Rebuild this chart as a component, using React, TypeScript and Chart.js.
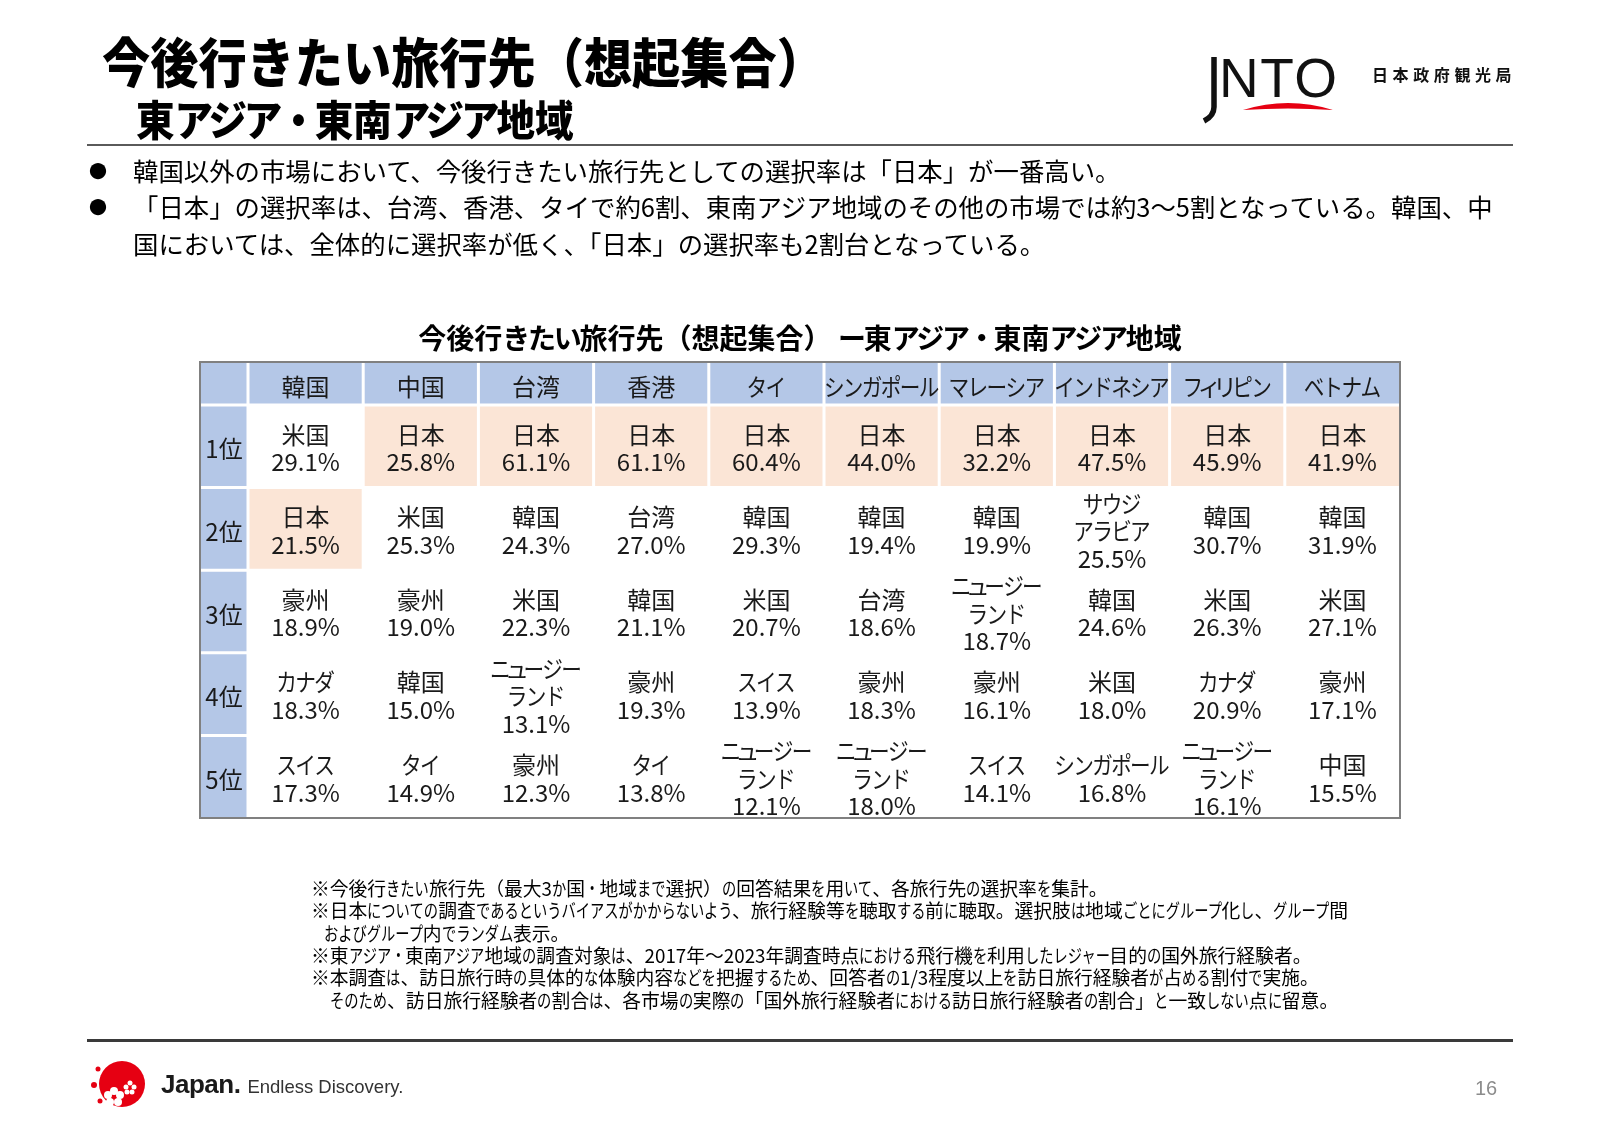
import React, { useEffect, useRef } from "react";
import { Chart, registerables } from "chart.js";

Chart.register(...registerables);

// ---------------- data ----------------
const markets = ["韓国", "中国", "台湾", "香港", "タイ", "シンガポール", "マレーシア", "インドネシア", "フィリピン", "ベトナム"];
const rankLabels = ["1位", "2位", "3位", "4位", "5位"];

const rank1Places = ["米国", "日本", "日本", "日本", "日本", "日本", "日本", "日本", "日本", "日本"];
const rank1Rates = [29.1, 25.8, 61.1, 61.1, 60.4, 44.0, 32.2, 47.5, 45.9, 41.9];

const rank2Places = ["日本", "米国", "韓国", "台湾", "韓国", "韓国", "韓国", "サウジ\nアラビア", "韓国", "韓国"];
const rank2Rates = [21.5, 25.3, 24.3, 27.0, 29.3, 19.4, 19.9, 25.5, 30.7, 31.9];

const rank3Places = ["豪州", "豪州", "米国", "韓国", "米国", "台湾", "ニュージー\nランド", "韓国", "米国", "米国"];
const rank3Rates = [18.9, 19.0, 22.3, 21.1, 20.7, 18.6, 18.7, 24.6, 26.3, 27.1];

const rank4Places = ["カナダ", "韓国", "ニュージー\nランド", "豪州", "スイス", "豪州", "豪州", "米国", "カナダ", "豪州"];
const rank4Rates = [18.3, 15.0, 13.1, 19.3, 13.9, 18.3, 16.1, 18.0, 20.9, 17.1];

const rank5Places = ["スイス", "タイ", "豪州", "タイ", "ニュージー\nランド", "ニュージー\nランド", "スイス", "シンガポール", "ニュージー\nランド", "中国"];
const rank5Rates = [17.3, 14.9, 12.3, 13.8, 12.1, 18.0, 14.1, 16.8, 16.1, 15.5];

const highlightPlace = "日本";

const pageTitle = "今後行きたい旅行先（想起集合）";
const pageSubtitle = "東アジア・東南アジア地域";
const bulletLines = [
  ["韓国以外の市場において、今後行きたい旅行先としての選択率は「日本」が一番高い。"],
  [
    "「日本」の選択率は、台湾、香港、タイで約6割、東南アジア地域のその他の市場では約3～5割となっている。韓国、中",
    "国においては、全体的に選択率が低く、「日本」の選択率も2割台となっている。",
  ],
];
const tableTitle = "今後行きたい旅行先（想起集合） ー東アジア・東南アジア地域";
const footnotes = [
  "※今後行きたい旅行先（最大3か国・地域まで選択）の回答結果を用いて、各旅行先の選択率を集計。",
  "※日本についての調査であるというバイアスがかからないよう、旅行経験等を聴取する前に聴取。選択肢は地域ごとにグループ化し、グループ間",
  "およびグループ内でランダム表示。",
  "※東アジア・東南アジア地域の調査対象は、2017年～2023年調査時点における飛行機を利用したレジャー目的の国外旅行経験者。",
  "※本調査は、訪日旅行時の具体的な体験内容などを把握するため、回答者の1/3程度以上を訪日旅行経験者が占める割付で実施。",
  "そのため、訪日旅行経験者の割合は、各市場の実際の「国外旅行経験者における訪日旅行経験者の割合」と一致しない点に留意。",
];
const footnoteIndents = [0, 0, 13, 0, 0, 19];
const pageNumber = "16";

// ---------------- table model built from the arrays ----------------
const rankRows = [
  { places: rank1Places, rates: rank1Rates },
  { places: rank2Places, rates: rank2Rates },
  { places: rank3Places, rates: rank3Rates },
  { places: rank4Places, rates: rank4Rates },
  { places: rank5Places, rates: rank5Rates },
];

const cellPoints = rankRows.flatMap((_, r) => markets.map((__, c) => ({ x: c + 0.5, y: r + 0.5 })));

// ---------------- styling ----------------
const HEADER_BLUE = "#b4c7e7";
const PEACH = "#fbe5d6";
const BORDER = "#808080";
const TEXT = "#1a1a1a";
const CELL_EM = 24;
const CELL_FONT = `${CELL_EM}px "Noto Sans CJK JP", sans-serif`;
const LINE_H = 27.5;
const JP = '"Noto Sans CJK JP", "Noto Sans CJK SC", sans-serif';

const KATAKANA = /[\u30a0-\u30ff]/;
const SMALL_KANA = /[ァィゥェォッャュョヮ]/;

// proportional-width approximation for katakana (like a UI font with narrow kana)
function glyphMetrics(ctx: CanvasRenderingContext2D, ch: string) {
  if (SMALL_KANA.test(ch)) return { adv: 0.6 * CELL_EM, sx: 1 };
  if (ch === "リ") return { adv: 0.68 * CELL_EM, sx: 1 };
  if (KATAKANA.test(ch)) return { adv: 0.79 * CELL_EM, sx: 0.86 };
  return { adv: ctx.measureText(ch).width, sx: 1 };
}

function drawLabel(ctx: CanvasRenderingContext2D, text: string, cx: number, cy: number) {
  ctx.textAlign = "center";
  if (!KATAKANA.test(text)) {
    ctx.fillText(text, cx, cy);
    return;
  }
  const chars = Array.from(text);
  const m = chars.map((ch) => glyphMetrics(ctx, ch));
  const total = m.reduce((a, b) => a + b.adv, 0);
  let cursor = cx - total / 2;
  chars.forEach((ch, i) => {
    ctx.save();
    ctx.translate(cursor + m[i].adv / 2, cy);
    ctx.scale(m[i].sx, 1);
    ctx.fillText(ch, 0, 0);
    ctx.restore();
    cursor += m[i].adv;
  });
}

const rankTablePlugin = {
  id: "rankTable",
  beforeDatasetsDraw(chart: any) {
    const { ctx, scales } = chart;
    const xs = scales.x;
    const ys = scales.y;
    const px = (v: number) => xs.getPixelForValue(v);
    const py = (v: number) => ys.getPixelForValue(v);
    const left = px(xs.min), right = px(xs.max), top = py(ys.min), bottom = py(ys.max);
    const bodyLeft = px(0), bodyTop = py(0);
    ctx.save();
    ctx.fillStyle = "#ffffff";
    ctx.fillRect(left, top, right - left, bottom - top);
    ctx.fillStyle = HEADER_BLUE;
    ctx.fillRect(left, top, right - left, bodyTop - top);
    ctx.fillRect(left, bodyTop, bodyLeft - left, bottom - bodyTop);
    ctx.fillStyle = PEACH;
    rankRows.forEach((row, r) =>
      row.places.forEach((p, c) => {
        if (p === highlightPlace) ctx.fillRect(px(c), py(r), px(c + 1) - px(c), py(r + 1) - py(r));
      })
    );
    ctx.strokeStyle = "#ffffff";
    ctx.lineWidth = 3;
    ctx.beginPath();
    for (let c = 0; c < markets.length; c++) {
      const x = px(c);
      ctx.moveTo(x, top);
      ctx.lineTo(x, bottom);
    }
    for (let r = 0; r < rankLabels.length; r++) {
      const y = py(r);
      ctx.moveTo(left, y);
      ctx.lineTo(right, y);
    }
    ctx.stroke();
    ctx.strokeStyle = BORDER;
    ctx.lineWidth = 2;
    ctx.strokeRect(left, top, right - left, bottom - top);
    ctx.restore();
  },
  afterDatasetsDraw(chart: any) {
    const { ctx, scales } = chart;
    const xs = scales.x;
    const ys = scales.y;
    const px = (v: number) => xs.getPixelForValue(v);
    const py = (v: number) => ys.getPixelForValue(v);
    const left = px(xs.min), top = py(ys.min);
    const bodyLeft = px(0), bodyTop = py(0);
    ctx.save();
    ctx.font = CELL_FONT;
    ctx.fillStyle = TEXT;
    ctx.textBaseline = "middle";
    markets.forEach((m, c) => drawLabel(ctx, m, px(c + 0.5), (top + bodyTop) / 2 + 3));
    rankLabels.forEach((l, r) => drawLabel(ctx, l, (left + bodyLeft) / 2, py(r + 0.5) + 3));
    const meta = chart.getDatasetMeta(0);
    meta.data.forEach((el: any, i: number) => {
      const r = Math.floor(i / markets.length);
      const c = i % markets.length;
      const row = rankRows[r];
      const lines = row.places[c].split("\n").concat(`${row.rates[c].toFixed(1)}%`);
      const start = el.y + 2 - ((lines.length - 1) * LINE_H) / 2;
      lines.forEach((t, k) => drawLabel(ctx, t, el.x, start + k * LINE_H));
    });
    ctx.restore();
  },
};

// ---------------- html helpers ----------------
const KANA_RE = /[\u3041-\u309f\u30a0-\u30ff]/;
type JpProps = { text: string; squeeze?: string; condense?: number };
// Kana runs are either letter-spaced (squeeze) or horizontally condensed (condense < 1),
// imitating a UI font with narrow kana.
function Jp({ text, squeeze = "0em", condense = 1 }: JpProps) {
  const runs: { t: string; k: boolean }[] = [];
  for (const ch of text) {
    const k = KANA_RE.test(ch);
    const last = runs[runs.length - 1];
    if (last && last.k === k) last.t += ch;
    else runs.push({ t: ch, k });
  }
  return (
    <>
      {runs.map((r, i) => {
        if (!r.k) return <React.Fragment key={i}>{r.t}</React.Fragment>;
        if (condense < 1) {
          const n = Array.from(r.t).length;
          return (
            <span
              key={i}
              style={{
                display: "inline-block",
                transform: `scaleX(${condense})`,
                transformOrigin: "0 50%",
                marginRight: `${-(1 - condense) * n}em`,
              }}
            >
              {r.t}
            </span>
          );
        }
        return (
          <span key={i} style={{ letterSpacing: squeeze }}>
            {r.t}
          </span>
        );
      })}
    </>
  );
}

const abs = (left: number, top: number, extra: React.CSSProperties = {}): React.CSSProperties => ({
  position: "absolute",
  left,
  top,
  whiteSpace: "nowrap",
  ...extra,
});

export default function App() {
  const canvasRef = useRef<HTMLCanvasElement | null>(null);

  useEffect(() => {
    if (!canvasRef.current) return;
    const chart = new Chart(canvasRef.current, {
      type: "scatter",
      data: {
        datasets: [
          {
            data: cellPoints,
            pointRadius: 0,
            pointHoverRadius: 0,
            showLine: false,
          } as any,
        ],
      },
      options: {
        responsive: false,
        maintainAspectRatio: false,
        animation: false,
        devicePixelRatio: 1,
        events: [],
        layout: { padding: { left: 200, right: 200, top: 362, bottom: 312 } },
        plugins: {
          legend: { display: false },
          tooltip: { enabled: false },
          title: { display: false },
        },
        scales: {
          x: { type: "linear", display: false, min: -48 / 115.2, max: markets.length },
          y: { type: "linear", display: false, reverse: true, min: -43 / 82.6, max: rankLabels.length },
        },
      } as any,
      plugins: [rankTablePlugin],
    });
    return () => chart.destroy();
  }, []);

  let bulletLineIndex = 0;
  const bulletTop0 = 151.75;
  const bulletLH = 36.5;

  return (
    <div
      style={{
        position: "absolute",
        left: 0,
        top: 0,
        width: 1600,
        height: 1130,
        overflow: "hidden",
        background: "#ffffff",
        fontFamily: JP,
        color: "#000",
      }}
    >
      <canvas ref={canvasRef} width={1600} height={1130} style={{ position: "absolute", left: 0, top: 0 }} />

      {/* title block */}
      <div style={abs(102, 32, { fontSize: 48.2, lineHeight: "56px", fontWeight: 900, transform: "scaleY(1.1)", transformOrigin: "left center" })}>
        <Jp text={pageTitle} />
      </div>
      <div style={abs(136, 95, { fontSize: 38.5, lineHeight: "46px", fontWeight: 900, transform: "scaleY(1.08)", transformOrigin: "left center" })}>
        <Jp text={pageSubtitle} squeeze="-0.08em" />
      </div>
      <div style={abs(87, 144, { width: 1426, height: 2, background: "#5a5a5a" })} />

      {/* JNTO logo */}
      <svg style={{ position: "absolute", left: 0, top: 0 }} width={1600} height={140}>
        <path d="M1214 57 L1214 107 Q1214 116 1204 121" stroke="#111" strokeWidth={5.5} fill="none" />
        <text x={1219} y={97} fontSize={55} letterSpacing={1.5} fontFamily="Liberation Sans, Arial, sans-serif" fill="#111">
          NTO
        </text>
        <path d="M1243 110 Q1288 96 1333 110 Q1288 107 1243 110 Z" fill="#e60012" />
        <text x={1372} y={81} fontSize={16} fontWeight={700} letterSpacing={4.6} fontFamily={JP} fill="#111">
          日本政府観光局
        </text>
      </svg>

      {/* bullets */}
      {bulletLines.map((group, g) => (
        <React.Fragment key={g}>
          {group.map((line, j) => {
            const top = bulletTop0 + bulletLineIndex * bulletLH;
            bulletLineIndex++;
            return (
              <React.Fragment key={j}>
                {j === 0 && (
                  <div style={abs(89, top, { fontSize: 18, lineHeight: `${bulletLH}px` })}>●</div>
                )}
                <div style={abs(133, top, { fontSize: 25.4, lineHeight: `${bulletLH}px` })}>
                  <Jp text={line} />
                </div>
              </React.Fragment>
            );
          })}
        </React.Fragment>
      ))}

      {/* table title */}
      <div style={abs(0, 320, { width: 1600, textAlign: "center", fontSize: 28, lineHeight: "34px", fontWeight: 700 })}>
        <Jp text={tableTitle} squeeze="-0.08em" />
      </div>

      {/* footnotes */}
      {footnotes.map((f, i) => (
        <div key={i} style={abs(311 + footnoteIndents[i], 876.8 + i * 22.4, { fontSize: 18.8, lineHeight: "22.4px" })}>
          <Jp text={f} condense={0.76} />
        </div>
      ))}

      {/* footer */}
      <div style={abs(87, 1039, { width: 1426, height: 3, background: "#3a3a3a" })} />
      <svg style={{ position: "absolute", left: 80, top: 1055 }} width={80} height={60}>
        <circle cx={42} cy={29} r={23} fill="#e60012" />
        <circle cx={18} cy={14} r={2.5} fill="#e60012" />
        <circle cx={14} cy={30} r={3} fill="#e60012" />
        <circle cx={20} cy={46} r={2.5} fill="#e60012" />
        <g fill="#ffffff">
          <circle cx={34} cy={36} r={4} />
          <circle cx={40} cy={40} r={4} />
          <circle cx={38} cy={47} r={4} />
          <circle cx={30} cy={47} r={4} />
          <circle cx={28} cy={40} r={4} />
          <circle cx={50} cy={28} r={2.5} />
          <circle cx={54} cy={32} r={2.5} />
          <circle cx={52} cy={37} r={2.5} />
          <circle cx={47} cy={37} r={2.5} />
          <circle cx={46} cy={32} r={2.5} />
        </g>
        <circle cx={34} cy={42} r={2} fill="#e60012" />
      </svg>
      <div style={abs(161, 1069, { lineHeight: "30px", color: "#1a1a1a", fontFamily: '"Liberation Sans", Arial, sans-serif' })}>
        <span style={{ fontSize: 26, fontWeight: 700, letterSpacing: -0.5 }}>Japan.</span>
        <span style={{ fontSize: 18.5, marginLeft: 7, color: "#333" }}>Endless Discovery.</span>
      </div>
      <div style={abs(1475, 1076, { fontSize: 20, lineHeight: "24px", color: "#8c8c8c", fontFamily: '"Liberation Sans", Arial, sans-serif' })}>
        {pageNumber}
      </div>
    </div>
  );
}
